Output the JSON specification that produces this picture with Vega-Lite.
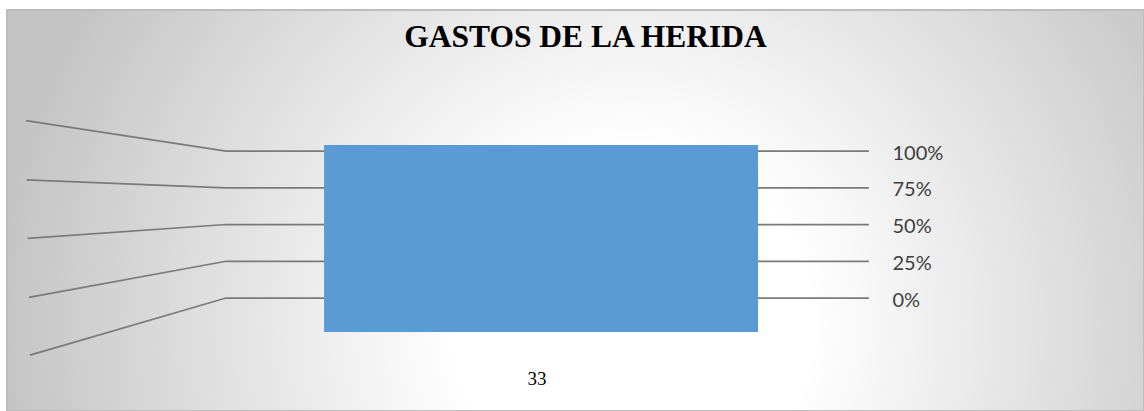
{
  "$schema": "https://vega.github.io/schema/vega-lite/v6.json",
  "width": 1137,
  "height": 401,
  "autosize": {"type": "none"},
  "padding": {"left": 7, "top": 10, "right": 0, "bottom": 0},
  "background": "#ffffff",
  "title": {
    "text": "GASTOS DE LA HERIDA",
    "font": "Liberation Serif",
    "fontSize": 31.5,
    "fontWeight": "bold",
    "color": "#000000",
    "anchor": "middle",
    "baseline": "alphabetic",
    "offset": -68,
    "dx": 10
  },
  "datasets": {
    "grid": [
      {"tick": 1, "pos": 0.0167, "pct": 1.206},
      {"tick": 1, "pos": 0.1926, "pct": 1},
      {"tick": 1, "pos": 0.758, "pct": 1},
      {"tick": 0.75, "pos": 0.0173, "pct": 0.803},
      {"tick": 0.75, "pos": 0.1926, "pct": 0.75},
      {"tick": 0.75, "pos": 0.758, "pct": 0.75},
      {"tick": 0.5, "pos": 0.0182, "pct": 0.406},
      {"tick": 0.5, "pos": 0.1926, "pct": 0.5},
      {"tick": 0.5, "pos": 0.758, "pct": 0.5},
      {"tick": 0.25, "pos": 0.0193, "pct": 0.005},
      {"tick": 0.25, "pos": 0.1926, "pct": 0.25},
      {"tick": 0.25, "pos": 0.758, "pct": 0.25},
      {"tick": 0, "pos": 0.0202, "pct": -0.388},
      {"tick": 0, "pos": 0.1926, "pct": 0},
      {"tick": 0, "pos": 0.758, "pct": 0}
    ],
    "bars": [
      {"categoria": "33", "valor": 1}
    ]
  },
  "layer": [
    {
      "data": {"name": "grid"},
      "mark": {"type": "line", "color": "#7a7a7a", "strokeWidth": 1.75, "interpolate": "linear"},
      "encoding": {
        "x": {"field": "pos", "type": "quantitative", "scale": {"domain": [0, 1], "nice": false, "zero": false}, "axis": null},
        "y": {
          "field": "pct", "type": "quantitative",
          "scale": {"domain": [-0.7687, 1.9592], "nice": false, "zero": false},
          "axis": {
            "orient": "right",
            "values": [0, 0.25, 0.5, 0.75, 1],
            "format": ".0%",
            "offset": -252,
            "domain": false,
            "ticks": false,
            "tickSize": 0,
            "grid": false,
            "labelPadding": 0,
            "labelFont": "Lato",
            "labelFontSize": 20,
            "labelColor": "#404040",
            "labelAlign": "left",
            "labelBaseline": "middle",
            "labelOffset": 2,
            "title": null
          }
        },
        "detail": {"field": "tick", "type": "nominal"},
        "order": {"field": "pos", "type": "quantitative"}
      }
    },
    {
      "data": {"name": "bars"},
      "mark": {"type": "bar", "color": "#5B9BD5", "yOffset": -6, "y2Offset": 34},
      "encoding": {
        "x": {
          "field": "categoria", "type": "nominal",
          "scale": {"paddingInner": 0, "paddingOuter": 0.8099, "align": 0.451},
          "axis": {
            "orient": "bottom",
            "offset": -33,
            "domain": false,
            "ticks": false,
            "tickSize": 0,
            "grid": false,
            "labelAngle": 0,
            "labelPadding": 0,
            "labelFont": "Liberation Serif",
            "labelFontSize": 19,
            "labelColor": "#000000",
            "labelBaseline": "middle",
            "labelOffset": -4,
            "title": null
          }
        },
        "y": {"field": "valor", "type": "quantitative"},
        "y2": {"datum": 0}
      }
    }
  ],
  "resolve": {"scale": {"x": "independent"}, "axis": {"x": "independent"}},
  "config": {
    "view": {
      "stroke": "#bdbdbd",
      "strokeWidth": 2,
      "fill": {
        "gradient": "radial",
        "x1": 0.55, "y1": 0.6, "r1": 0,
        "x2": 0.55, "y2": 0.6, "r2": 0.56,
        "stops": [
          {"offset": 0, "color": "#ffffff"},
          {"offset": 0.28, "color": "#ffffff"},
          {"offset": 1, "color": "#c4c4c4"}
        ]
      }
    }
  }
}
